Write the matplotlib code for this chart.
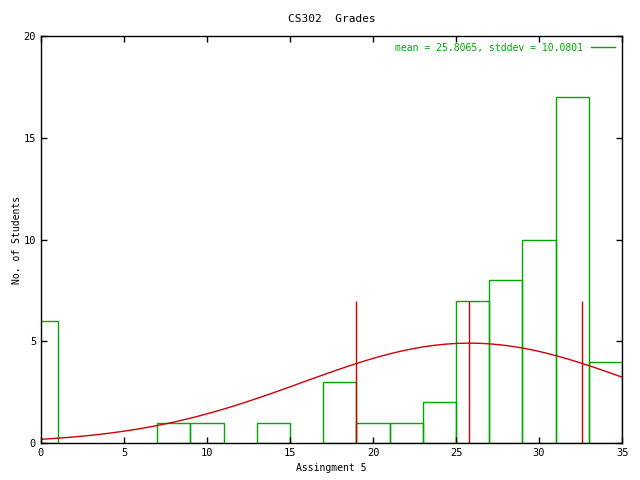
import numpy as np
import matplotlib.pyplot as plt
from matplotlib.lines import Line2D

# histogram of grades (bin centres, bin width 2)
bin_centers = [0, 8, 10, 14, 18, 20, 22, 24, 26, 28, 30, 32, 34]
counts = [6, 1, 1, 1, 3, 1, 1, 2, 7, 8, 10, 17, 4]
bin_width = 2

# fitted normal distribution
mean = 25.8065
stddev = 10.0801

# red marker lines
marker_x = [19.0, 25.8065, 32.6]
marker_height = 7

green = '#00a800'
red = '#d00000'

plt.rcParams['font.family'] = 'DejaVu Sans Mono'
plt.rcParams['font.size'] = 7.5

fig = plt.figure(figsize=(6.4, 4.8), dpi=100)
ax = fig.add_axes([0.064, 0.077, 0.908, 0.848])

ax.bar(bin_centers, counts, width=bin_width, fill=False,
       edgecolor=green, linewidth=1.0)

n_total = sum(counts)
x = np.linspace(0, 35, 100)
y = n_total * bin_width / (stddev * np.sqrt(2 * np.pi)) * np.exp(-(x - mean) ** 2 / (2 * stddev ** 2))
ax.plot(x, y, color=red, linewidth=1.0)

ax.vlines(marker_x, 0, marker_height, color=red, linewidth=1.0)

ax.set_xlim(0, 35)
ax.set_ylim(0, 20)
ax.set_xticks(range(0, 36, 5))
ax.set_yticks(range(0, 21, 5))
ax.tick_params(direction='in', top=True, right=True, length=4, width=1)
for s in ax.spines.values():
    s.set_linewidth(1.0)

ax.set_title('CS302  Grades', fontsize=8, pad=10)
ax.set_xlabel('Assingment 5', fontsize=7, labelpad=4)
ax.set_ylabel('No. of Students', fontsize=7, labelpad=1)

handle = Line2D([0], [0], color=green, linewidth=1.0)
leg = ax.legend([handle], ['mean = %.4f, stddev = %.4f' % (mean, stddev)],
                loc='upper right', frameon=False, markerfirst=False,
                fontsize=7, handlelength=2.5, borderaxespad=0.3)
for t in leg.get_texts():
    t.set_color(green)

fig.savefig('out.png', dpi=100)
